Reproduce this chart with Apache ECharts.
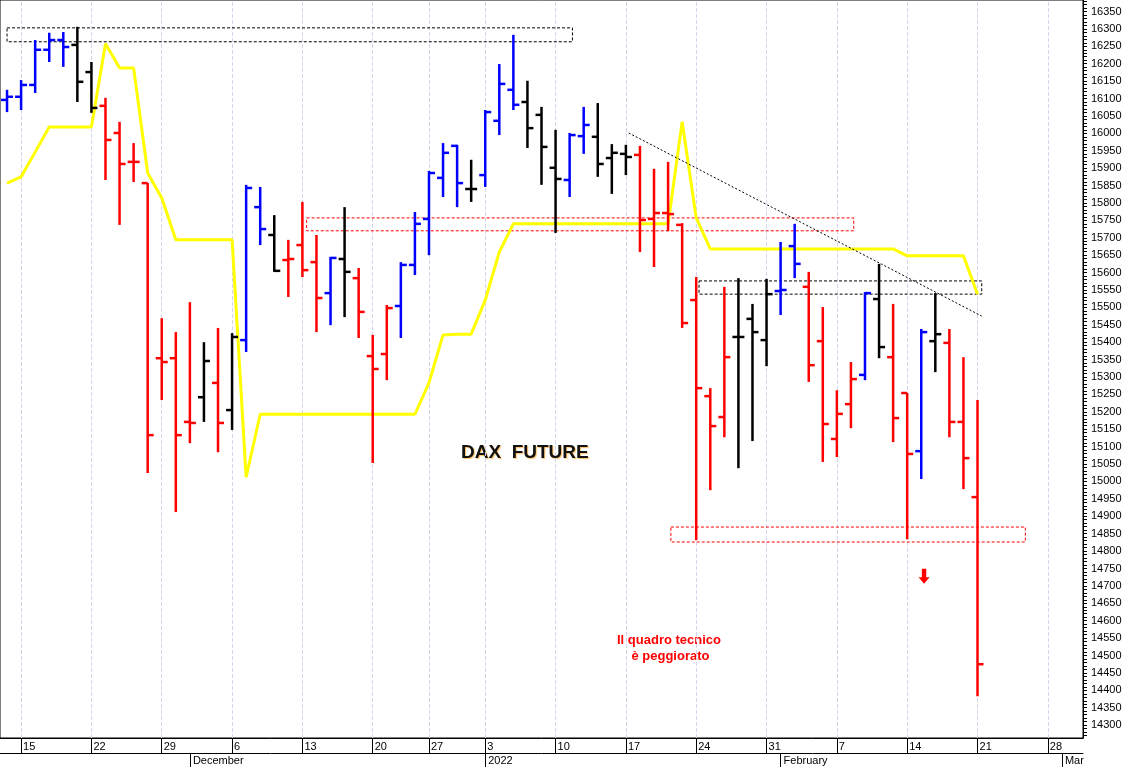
<!DOCTYPE html>
<html>
<head>
<meta charset="utf-8">
<script src="https://cdn.jsdelivr.net/npm/echarts@6/dist/echarts.min.js"></script>
<style>
  html, body { margin: 0; padding: 0; background: #fff; }
  #chart { width: 1131px; height: 767px; }
</style>
</head>
<body>
<div id="chart"></div>
<script>
/* trading days shown on the chart */
var dates = [
  '2021-11-12', '2021-11-15', '2021-11-16', '2021-11-17', '2021-11-18', '2021-11-19',
  '2021-11-22', '2021-11-23', '2021-11-24', '2021-11-25', '2021-11-26',
  '2021-11-29', '2021-11-30', '2021-12-01', '2021-12-02', '2021-12-03',
  '2021-12-06', '2021-12-07', '2021-12-08', '2021-12-09', '2021-12-10',
  '2021-12-13', '2021-12-14', '2021-12-15', '2021-12-16', '2021-12-17',
  '2021-12-20', '2021-12-21', '2021-12-22', '2021-12-23',
  '2021-12-27', '2021-12-28', '2021-12-29', '2021-12-30',
  '2022-01-03', '2022-01-04', '2022-01-05', '2022-01-06', '2022-01-07',
  '2022-01-10', '2022-01-11', '2022-01-12', '2022-01-13', '2022-01-14',
  '2022-01-17', '2022-01-18', '2022-01-19', '2022-01-20', '2022-01-21',
  '2022-01-24', '2022-01-25', '2022-01-26', '2022-01-27', '2022-01-28',
  '2022-01-31', '2022-02-01', '2022-02-02', '2022-02-03', '2022-02-04',
  '2022-02-07', '2022-02-08', '2022-02-09', '2022-02-10', '2022-02-11',
  '2022-02-14', '2022-02-15', '2022-02-16', '2022-02-17', '2022-02-18',
  '2022-02-21', '2022-02-22', '2022-02-23', '2022-02-24', '2022-02-25',
  '2022-02-28', '2022-03-01', '2022-03-02'
];

/* barre OHLC */
var opens = [16096, 16105, 16139, 16240, 16268, 16254, 16176, 16079, 16001, 15918,
  15857, 15354, 15354, 15171, 15242, 15283, 15205, 15406, 15788, 15708,
  15636, 15679, 15630, 15541, 15639, 15584, 15360, 15366, 15504, 15622,
  15754, 15872, 15964, 15840, 15880, 16036, 16125, 16090, 16053, 15901,
  15866, 15992, 15990, 15929, 15941, 15938, 15754, 15771, 15737, 15521,
  15245, 15185, 15415, 15467, 15406, 15547, 15676, 15559, 15403, 15122,
  15222, 15306, 15524, 15357, 15254, 15087, 15403, 15398, 15171, 14955];
var highs = [16125, 16153, 16268, 16289, 16291, 16306, 16205, 16102, 16033, 15972,
  15857, 15469, 15429, 15515, 15400, 15441, 15426, 15852, 15846, 15765,
  15694, 15803, 15708, 15645, 15788, 15613, 15421, 15507, 15630, 15774,
  15892, 15972, 15967, 15924, 16067, 16199, 16283, 16151, 16076, 16010,
  16001, 16076, 16087, 15969, 15967, 15964, 15898, 15918, 15742, 15587,
  15268, 15559, 15584, 15510, 15582, 15688, 15740, 15602, 15501, 15262,
  15343, 15544, 15625, 15510, 15254, 15438, 15541, 15438, 15357, 15234];
var lows = [16061, 16067, 16116, 16205, 16191, 16090, 16059, 15866, 15737, 15860,
  15024, 15234, 14912, 15110, 15171, 15084, 15148, 15372, 15679, 15602,
  15530, 15587, 15429, 15449, 15472, 15412, 15053, 15291, 15412, 15593,
  15650, 15817, 15788, 15803, 15846, 15995, 16067, 15958, 15852, 15714,
  15817, 15941, 15875, 15826, 15880, 15659, 15616, 15719, 15441, 14831,
  14975, 15127, 15038, 15116, 15331, 15478, 15584, 15286, 15056, 15070,
  15153, 15291, 15354, 15113, 14834, 15007, 15314, 15127, 14978, 14383];
var closes = [16105, 16139, 16240, 16268, 16248, 16148, 16073, 15981, 15912, 15918,
  15133, 15343, 15133, 15168, 15346, 15168, 15415, 15843, 15725, 15605,
  15639, 15607, 15527, 15642, 15602, 15487, 15323, 15498, 15622, 15740,
  15886, 15944, 15857, 15840, 16061, 16142, 16082, 16015, 15961, 15869,
  15995, 16024, 15912, 15944, 15932, 15751, 15771, 15768, 15455, 15268,
  15159, 15357, 15415, 15429, 15538, 15550, 15625, 15334, 15165, 15194,
  15294, 15541, 15386, 15182, 15079, 15429, 15423, 15171, 15067, 14475];
/* b = blu, k = nero, r = rosso */
var barColors = 'bbbbbkkrrrrrrrkrkbbkrrrbkrrrbbbbbkbbbkkkbbkkkrrrrrrrkkkbbrrrrbkrrbkrrr';

/* linea gialla */
var yellowLine = [15857, 15875, 15946, 16018, 16018, 16018, 16018, 16257, 16188, 16188,
  15886, 15814, 15694, 15694, 15694, 15694, 15694, 15012, 15193, 15193,
  15193, 15193, 15193, 15193, 15193, 15193, 15193, 15193, 15193, 15193,
  15283, 15421, 15423, 15423, 15521, 15659, 15740, 15740, 15740, 15740,
  15740, 15740, 15740, 15740, 15740, 15740, 15740, 15740, 16033, 15757,
  15668, 15668, 15668, 15668, 15668, 15668, 15668, 15668, 15668, 15668,
  15668, 15668, 15668, 15668, 15648, 15648, 15648, 15648, 15648, 15538];

/* tacche asse prezzi */
var yTicks = [];
for (var t = 14300; t <= 16350; t += 50) yTicks.push(t);
var yMinor = [];
for (var m = 14270; m <= 16380; m += 10) yMinor.push(m);

var colorMap = { b: '#0000ff', k: '#000000', r: '#ff0000' };
var ohlc = opens.map(function (o, i) {
  return [i, o, highs[i], lows[i], closes[i]];
});
var yellowData = yellowLine.map(function (v, i) { return [i, v]; });

var mondays = [];
dates.forEach(function (d, i) {
  if (new Date(d + 'T12:00:00').getDay() === 1) mondays.push(i);
});
var monthNames = ['January', 'February', 'Mar', 'April', 'May', 'June', 'July',
  'August', 'September', 'October', 'November', 'December'];
function isMonthStart(i) {
  return i > 0 && dates[i].slice(5, 7) !== dates[i - 1].slice(5, 7);
}

function renderBar(params, api) {
  var i = api.value(0);
  var pO = api.coord([i, api.value(1)]);
  var pH = api.coord([i, api.value(2)]);
  var pL = api.coord([i, api.value(3)]);
  var pC = api.coord([i, api.value(4)]);
  var col = colorMap[barColors.charAt(params.dataIndex)];
  var w = 6;
  function st() { return { stroke: col, lineWidth: 2.5, lineDash: null }; }
  return {
    type: 'group',
    children: [
      { type: 'line', shape: { x1: pH[0], y1: pH[1], x2: pL[0], y2: pL[1] }, style: st() },
      { type: 'line', shape: { x1: pO[0] - w, y1: pO[1], x2: pO[0], y2: pO[1] }, style: st() },
      { type: 'line', shape: { x1: pC[0], y1: pC[1], x2: pC[0] + w, y2: pC[1] }, style: st() }
    ]
  };
}

var myChart = echarts.init(document.getElementById('chart'));
var option = {
  animation: false,
  backgroundColor: '#fff',
  textStyle: { fontFamily: 'Liberation Sans, Arial, sans-serif' },
  grid: { left: 0, right: 48, top: 0, bottom: 29, show: true, borderColor: '#000', borderWidth: 1 },
  xAxis: [{
    type: 'value', min: -0.5, max: dates.length - 0.5, show: false
  }, {
    type: 'category', data: dates, position: 'bottom',
    axisLine: { show: true, onZero: false, lineStyle: { color: '#000' } },
    axisTick: {
      show: true, alignWithLabel: true, length: 15, lineStyle: { color: '#000' },
      interval: function (i) { return mondays.indexOf(i) >= 0; }
    },
    axisLabel: {
      interval: function (i) { return mondays.indexOf(i) >= 0; },
      formatter: function (v) { return String(+v.slice(8, 10)); },
      align: 'left', padding: [0, 0, 0, 2], margin: 3, fontSize: 11, color: '#000'
    },
    splitLine: { show: false }
  }, {
    type: 'category', data: dates, position: 'bottom', offset: 15,
    axisLine: { show: true, onZero: false, lineStyle: { color: '#000' } },
    axisTick: {
      show: true, alignWithLabel: true, length: 14, lineStyle: { color: '#000' },
      interval: function (i) { return isMonthStart(i); }
    },
    axisLabel: {
      interval: function (i) { return isMonthStart(i); },
      formatter: function (v) {
        var mo = +v.slice(5, 7);
        return mo === 1 ? v.slice(0, 4) : monthNames[mo - 1];
      },
      align: 'left', padding: [0, 0, 0, 3], margin: 2, fontSize: 11, color: '#000'
    }
  }],
  yAxis: {
    type: 'value', position: 'right', min: 14263, max: 16383,
    axisLine: { show: true, onZero: false, lineStyle: { color: '#000' } },
    axisTick: { show: true, customValues: yMinor, length: 4, lineStyle: { color: '#000' } },
    axisLabel: {
      customValues: yTicks, fontSize: 11, color: '#000', margin: 8,
      formatter: function (v) { return String(v); }
    },
    splitLine: { show: false }
  },
  series: [{
    type: 'line', data: [], z: 0,
    markLine: {
      silent: true, symbol: 'none', label: { show: false }, z: 0,
      lineStyle: { color: '#d4d4ec', type: 'dashed', width: 1 },
      data: mondays.map(function (i) { return { xAxis: i }; })
    }
  }, {
    type: 'line', xAxisIndex: 0, data: yellowData, symbol: 'none',
    lineStyle: { color: '#ffff00', width: 3 }, z: 2
  }, {
    type: 'custom', xAxisIndex: 0, data: ohlc, renderItem: renderBar, z: 3,
    encode: { x: 0, y: [1, 2, 3, 4] }
  }, {
    type: 'line', xAxisIndex: 0, data: [], z: 4,
    markArea: {
      silent: true,
      itemStyle: { color: 'rgba(0,0,0,0)', borderWidth: 1, borderType: [3, 2] },
      data: [
        [{ coord: [0, 16303], itemStyle: { borderColor: '#000' } }, { coord: [40.2, 16263] }],
        [{ coord: [21.3, 15757], itemStyle: { borderColor: '#ff0000' } }, { coord: [60.2, 15720] }],
        [{ coord: [47.2, 14869], itemStyle: { borderColor: '#ff0000' } }, { coord: [72.4, 14826] }],
        [{ coord: [49.2, 15576], itemStyle: { borderColor: '#000' } }, { coord: [69.3, 15538] }]
      ]
    },
    markLine: {
      silent: true, symbol: 'none', label: { show: false },
      lineStyle: { color: '#000', type: [2, 2], width: 1 },
      data: [[{ coord: [44.2, 16001] }, { coord: [69.3, 15475] }]]
    },
    markPoint: {
      silent: true,
      symbol: 'path://M3,0 L7,0 L7,8 L10,8 L5,14 L0,8 L3,8 Z',
      symbolSize: [11, 15],
      itemStyle: { color: '#ff0000' },
      label: { show: false },
      data: [{ coord: [65.2, 14728] }]
    }
  }],
  graphic: [{
    type: 'text', left: 461, top: 443,
    style: { text: 'DAX  FUTURE', font: 'bold 19px Liberation Sans, Arial', fill: '#111',
      textShadowColor: 'rgba(255,150,0,0.6)', textShadowBlur: 1, textShadowOffsetX: 1, textShadowOffsetY: 1 }
  }, {
    type: 'text', left: 617, top: 632,
    style: { text: 'Il quadro tecnico\n    è peggiorato', font: 'bold 13px Liberation Sans, Arial',
      fill: '#ff0000', lineHeight: 16 }
  }]
};
myChart.setOption(option);
</script>
</body>
</html>
